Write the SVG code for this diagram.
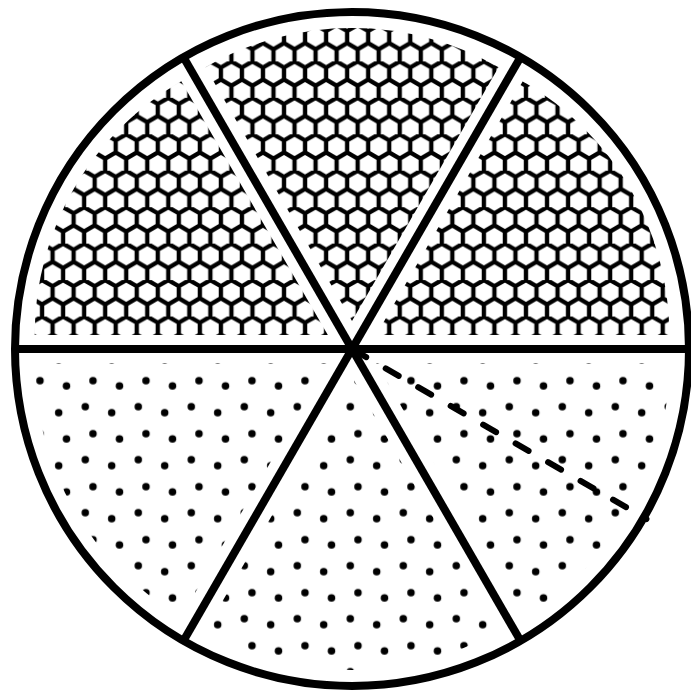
<svg xmlns="http://www.w3.org/2000/svg" width="691" height="694" viewBox="0 0 691 694">
  <style>
    .hexfill { fill: url(#hex); stroke: none; }
    .dotfill { fill: url(#dots); stroke: none; }
    .ln { stroke: #000; stroke-width: 8; fill: none; }
    .dash { stroke: #000; stroke-width: 6; stroke-linecap: round; stroke-dasharray: 15 22.5; stroke-dashoffset: 36.1; fill: none; }
  </style>
  <defs>
    <pattern id="hex" patternUnits="userSpaceOnUse" x="157.78" y="97.85" width="21.04" height="36.45">
      <path d="M10.52,0 L21.04,6.075 L21.04,18.225 L10.52,24.3 L0,18.225 L0,6.075 Z M10.52,24.3 L10.52,36.45" fill="none" stroke="#000" stroke-width="4.3" stroke-linejoin="miter"/>
    </pattern>
    <pattern id="dots" patternUnits="userSpaceOnUse" x="36.15" y="370.7" width="53" height="53">
      <circle cx="3.85" cy="10" r="3.75" fill="#000"/>
      <circle cx="30.35" cy="15.3" r="3.75" fill="#000"/>
      <circle cx="49.15" cy="36" r="3.75" fill="#000"/>
      <circle cx="22.55" cy="42" r="3.75" fill="#000"/>
    </pattern>
  </defs>
  <rect width="691" height="694" fill="#fff"/>
  <g id="sector-top-left"><path class="hexfill" d="M327.85,335.06 L34.66,335.06 A293.19,293.19 0 0 1 181.25,81.16 Z"/></g>
  <g id="sector-top"><path class="hexfill" d="M352,321.11 L205.4,67.21 A293.19,293.19 0 0 1 498.6,67.21 Z"/></g>
  <g id="sector-top-right"><path class="hexfill" d="M376.15,335.06 L522.75,81.16 A293.19,293.19 0 0 1 669.34,335.06 Z"/></g>
  <g id="sector-bottom-right"><path class="dotfill" d="M376.15,362.94 L669.34,362.94 A293.19,293.19 0 0 1 522.75,616.84 Z"/></g>
  <g id="sector-bottom"><path class="dotfill" d="M352,376.89 L498.6,630.79 A293.19,293.19 0 0 1 205.4,630.79 Z"/></g>
  <g id="sector-bottom-left"><path class="dotfill" d="M327.85,362.94 L181.25,616.84 A293.19,293.19 0 0 1 34.66,362.94 Z"/></g>
  <g id="connectors">
    <line class="dash" x1="352" y1="349" x2="646.45" y2="519"/>
    <line class="ln" x1="15" y1="349" x2="689" y2="349"/>
    <line class="ln" x1="183.5" y1="57.15" x2="520.5" y2="640.85"/>
    <line class="ln" x1="520.5" y1="57.15" x2="183.5" y2="640.85"/>
    <circle class="ln" cx="352" cy="349" r="337"/>
  </g>
</svg>
